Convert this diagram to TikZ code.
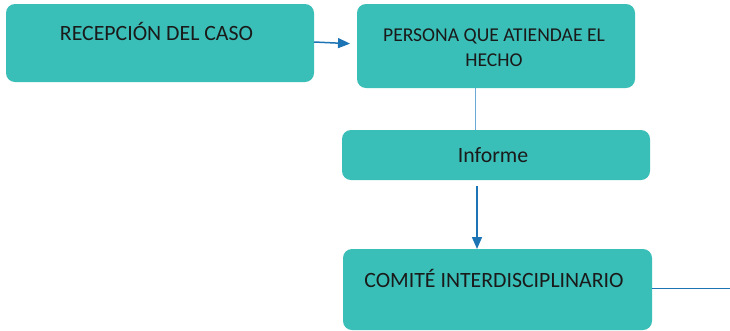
\documentclass[tikz,border=0pt]{standalone}
\usepackage{fontspec}
\setmainfont{Carlito}
\usepackage{tikz}
\usetikzlibrary{arrows.meta}
\usepackage{xcolor}
\definecolor{turquesa}{HTML}{3ABFB8}
\definecolor{azulflecha}{HTML}{1C74B5}
\definecolor{azulclaro}{HTML}{6AA8D8}
\definecolor{texto}{HTML}{1A1A1A}

\begin{document}
\begin{tikzpicture}[x=1pt, y=-1pt,
    caja/.style={rectangle, rounded corners=9pt, fill=turquesa, draw=none, inner sep=0pt, outer sep=0pt},
    letra/.style={anchor=base, text=texto, inner sep=0pt, font=\fontsize{21.8}{25}\selectfont},
    flecha/.style={-{Triangle[length=12pt, width=10pt]}, draw=azulflecha, line width=1.5pt},
    enlace/.style={draw=azulclaro, line width=0.8pt}]
    \useasboundingbox (0,0) rectangle (730,330);

    % Boxes
    \node[caja, minimum width=308pt, minimum height=78pt] (recep) at (160,43) {};
    \node[caja, minimum width=278pt, minimum height=84pt] (persona) at (496,46) {};
    \node[caja, minimum width=308pt, minimum height=50pt] (informe) at (496,155) {};
    \node[caja, minimum width=309pt, minimum height=81pt] (comite) at (497.5,289.5) {};

    % Texts
    \node[letra] (trecep) at (156.5,40) {RECEPCIÓN DEL CASO};
    \node[letra, font=\fontsize{19.6}{25}\selectfont] (tpersona1) at (494,41) {PERSONA QUE ATIENDAE EL};
    \node[letra, font=\fontsize{19.6}{25}\selectfont] (tpersona2) at (494,66) {HECHO};
    \node[letra] (tinforme) at (493,162) {Informe};
    \node[letra] (tcomite) at (494,287) {COMITÉ INTERDISCIPLINARIO};

    % Connectors
    \coordinate (salida) at (730,288);
    \draw[flecha, shorten >=7pt] ([yshift=1pt]recep.east) -- ([yshift=2pt]persona.west);
    \draw[enlace] ([xshift=-21pt]persona.south) -- ([xshift=-21pt]informe.north);
    \draw[flecha, shorten <=6pt] ([xshift=-19pt]informe.south) -- ([xshift=-20.5pt]comite.north);
    \draw[enlace, draw=azulflecha, line width=1pt] ([yshift=1.5pt]comite.east) -- (salida);
\end{tikzpicture}
\end{document}
